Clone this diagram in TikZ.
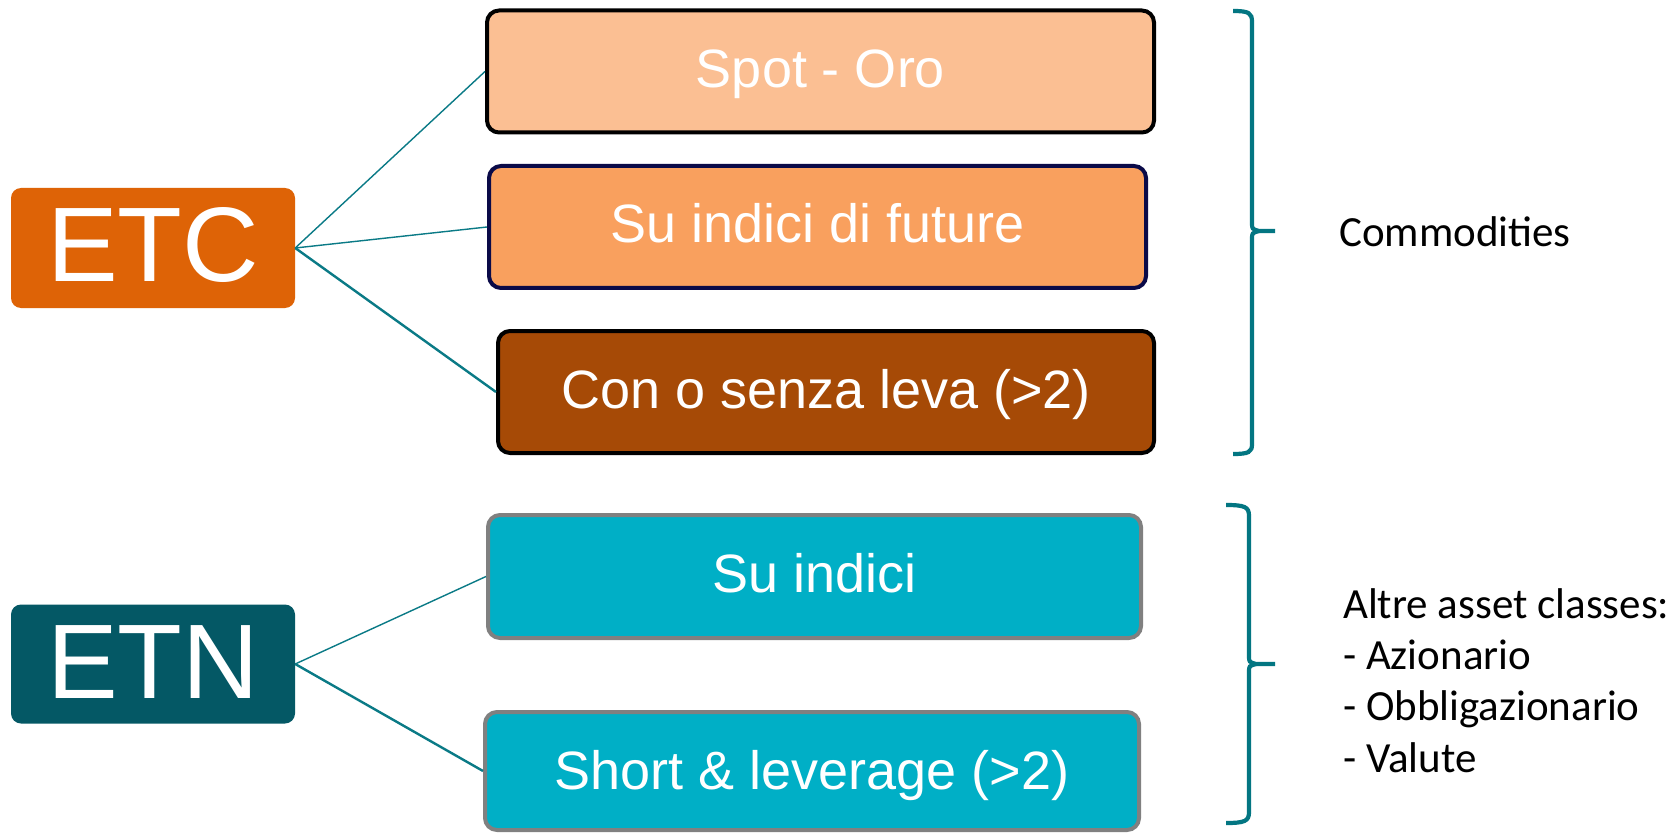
\documentclass[tikz,border=0pt]{standalone}
\usepackage{fontspec}
\setmainfont{Liberation Sans}
\newfontfamily\calibrifont{Carlito}
\definecolor{etcorange}{HTML}{DE6306}
\definecolor{etnteal}{HTML}{045865}
\definecolor{spotfill}{HTML}{FBBF93}
\definecolor{futfill}{HTML}{F9A05E}
\definecolor{confill}{HTML}{A64A06}
\definecolor{cyanfill}{HTML}{00AFC6}
\definecolor{grayedge}{HTML}{808080}
\definecolor{navyedge}{HTML}{0A0A48}
\definecolor{linkteal}{HTML}{0A7A86}
\definecolor{braceteal}{HTML}{037682}
\begin{document}
\begin{tikzpicture}[x=1pt,y=-1pt,
  catbox/.style={rounded corners=10pt, minimum width=284pt, inner sep=0pt, text=white,
    text height=77pt, text depth=9pt, font=\fontsize{106}{110}\selectfont},
  itembox/.style={draw, line width=4pt, rounded corners=12pt, inner sep=0pt, text=white,
    text height=38pt, text depth=6pt, font=\fontsize{54}{60}\selectfont},
  link/.style={draw=linkteal, line width=1.4pt},
  linkthick/.style={draw=linkteal, line width=2.4pt},
  bracepath/.style={draw=braceteal, line width=4.2pt},
  sidetext/.style={inner sep=0pt, font=\calibrifont\fontsize{43}{51.3}\selectfont}
]
\useasboundingbox[fill=white] (0,0) rectangle (1678,834);

\node[catbox, fill=etcorange, minimum height=120pt] (etc) at (153,248) {ETC};
\node[catbox, fill=etnteal, minimum height=119pt] (etn) at (153,664) {ETN};

\node[itembox, draw=black, fill=spotfill, minimum width=667pt, minimum height=122pt] (spot) at (820.5,71.5) {Spot - Oro};
\node[itembox, draw=navyedge, fill=futfill, minimum width=657pt, minimum height=122pt] (fut) at (817.5,227) {Su indici di future};
\node[itembox, draw=black, fill=confill, minimum width=656pt, minimum height=122pt] (con) at (826,392) {Con o senza leva (>2)};
\node[itembox, draw=grayedge, fill=cyanfill, minimum width=653pt, minimum height=123pt] (ind) at (814.5,576.5) {Su indici};
\node[itembox, draw=grayedge, fill=cyanfill, minimum width=654pt, minimum height=118pt, text depth=2pt] (short) at (812,771) {Short \& leverage (>2)};

\draw[link] (etc.east) -- (spot.west);
\draw[link] (etc.east) -- (fut.west);
\draw[linkthick] (etc.east) -- (con.west);
\draw[link] (etn.east) -- (ind.west);
\draw[linkthick] (etn.east) -- (short.west);

% brace 1
\coordinate (b1tip) at (1275,231);
\draw[bracepath] (1233,11) .. controls (1249,11) and (1252,13) .. (1252,22) -- (1252,223)
  .. controls (1252,229) .. (1259,231) -- (b1tip);
\draw[bracepath] (1259,231) .. controls (1252,233) .. (1252,239) -- (1252,444)
  .. controls (1252,452) and (1249,454) .. (1233,454);
% brace 2
\coordinate (b2tip) at (1275,664);
\draw[bracepath] (1226,505) .. controls (1245,505) and (1249,507) .. (1249,516) -- (1249,656)
  .. controls (1249,662) .. (1256,664) -- (b2tip);
\draw[bracepath] (1256,664) .. controls (1249,666) .. (1249,672) -- (1249,812)
  .. controls (1249,821) and (1245,823) .. (1226,823);

\node[sidetext, anchor=base west] (comm) at (1339,247) {Commodities};
\node[sidetext, anchor=base west, align=left] (altre) at (1343,772)
  {Altre asset classes:\\- Azionario\\- Obbligazionario\\- Valute};
\end{tikzpicture}
\end{document}
